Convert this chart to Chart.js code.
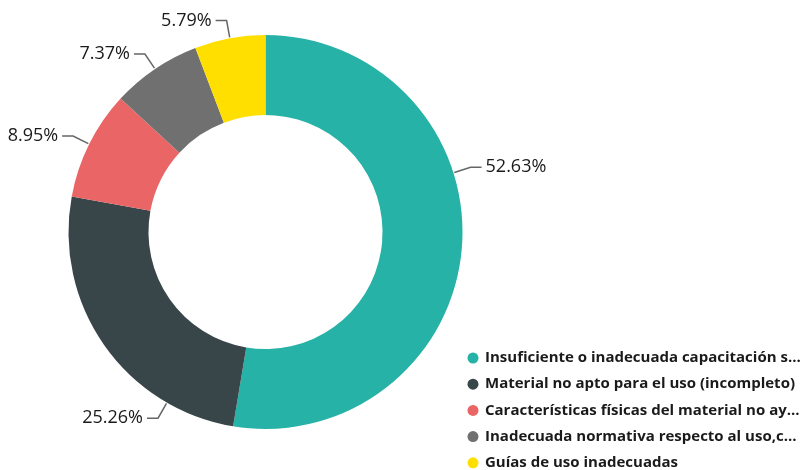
<!DOCTYPE html>
<html>
<head>
<meta charset="utf-8">
<script src="https://cdn.jsdelivr.net/npm/chart.js@4.4.1/dist/chart.umd.min.js"></script>
<style>
  html, body { margin: 0; padding: 0; background: #fff; }
  #wrap { position: relative; width: 801px; height: 470px; }
</style>
</head>
<body>
<div id="wrap"><canvas id="chart" width="801" height="470"></canvas></div>
<script>
const categories = [
  'Insuficiente o inadecuada capacitación s...',
  'Material no apto para el uso (incompleto)',
  'Características físicas del material no ay...',
  'Inadecuada normativa respecto al uso,c...',
  'Guías de uso inadecuadas',
];
const shares = [52.63, 25.26, 8.95, 7.37, 5.79];
const colors = ['#26B2A6', '#394649', '#E96566', '#707070', '#FEDF00'];

// angle (deg from top, clockwise) where Power BI hooked the big labels
const labelAngle = { 0: 72.5, 1: 210 };

const outsideLabels = {
  id: 'outsideLabels',
  afterDatasetsDraw(chart) {
    const ctx = chart.ctx;
    const arcs = chart.getDatasetMeta(0).data;
    const total = shares.reduce((a, b) => a + b, 0);
    ctx.save();
    ctx.font = '18px "Open Sans", "Noto Sans", sans-serif';
    ctx.textBaseline = 'middle';
    arcs.forEach((arc, i) => {
      let a = (arc.startAngle + arc.endAngle) / 2;
      if (labelAngle[i] !== undefined) a = labelAngle[i] * Math.PI / 180 - Math.PI / 2;
      const ux = Math.cos(a), uy = Math.sin(a);
      const r = arc.outerRadius + 1;
      const sx = arc.x + ux * r, sy = arc.y + uy * r;
      const ex = sx + ux * 17, ey = sy + uy * 17;
      const side = ux >= 0 ? 1 : -1;
      const hx = ex + side * 11;
      ctx.strokeStyle = '#666';
      ctx.lineWidth = 1.5;
      ctx.beginPath();
      ctx.moveTo(sx, sy);
      ctx.lineTo(ex, ey);
      ctx.lineTo(hx, ey);
      ctx.stroke();
      ctx.fillStyle = '#1a1a1a';
      ctx.textAlign = side > 0 ? 'left' : 'right';
      ctx.fillText((shares[i] / total * 100).toFixed(2) + '%', hx + side * 4, ey);
    });
    ctx.restore();
  },
};

const cornerLegend = {
  id: 'cornerLegend',
  afterDraw(chart) {
    const ctx = chart.ctx;
    ctx.save();
    ctx.font = 'bold 15px "Open Sans", "Noto Sans", sans-serif';
    ctx.textBaseline = 'middle';
    ctx.textAlign = 'left';
    categories.forEach((name, i) => {
      const y = 358 + i * 26.2;
      ctx.fillStyle = colors[i];
      ctx.beginPath();
      ctx.arc(473, y, 5.5, 0, Math.PI * 2);
      ctx.fill();
      ctx.fillStyle = '#1a1a1a';
      ctx.fillText(name, 485, y);
    });
    ctx.restore();
  },
};

new Chart(document.getElementById('chart').getContext('2d'), {
  type: 'doughnut',
  data: {
    labels: categories,
    datasets: [{
      data: shares,
      backgroundColor: colors,
      borderWidth: 0,
    }],
  },
  options: {
    responsive: false,
    animation: false,
    cutout: '59.4%',
    layout: { padding: { top: 35, bottom: 41, left: 68, right: 338 } },
    plugins: {
      legend: { display: false },
      tooltip: { enabled: false },
    },
  },
  plugins: [outsideLabels, cornerLegend],
});
</script>
</body>
</html>
